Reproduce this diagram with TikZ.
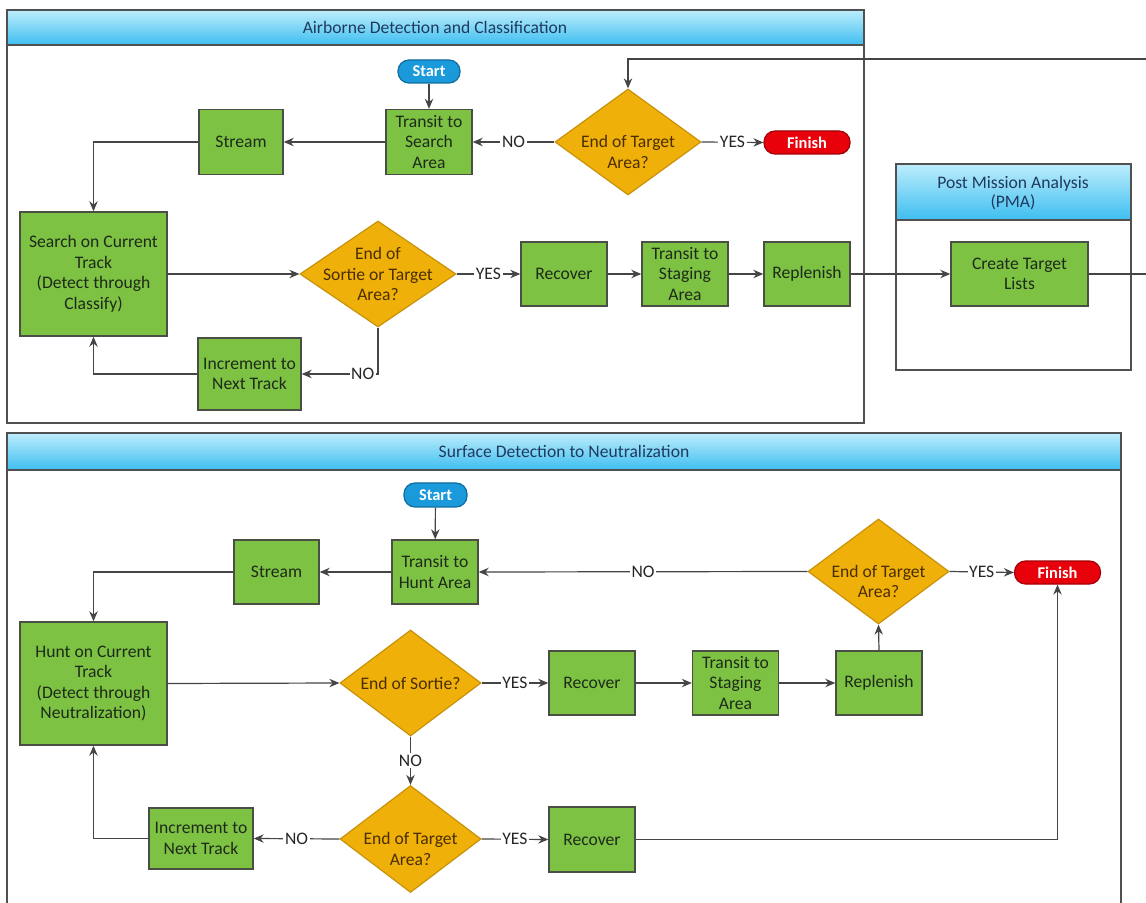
\documentclass[tikz,border=0pt]{standalone}
\usepackage{fontspec}
\setmainfont{Carlito}
\usetikzlibrary{shapes.geometric,arrows.meta}
\definecolor{boxgreen}{HTML}{7DC243}
\definecolor{boxborder}{HTML}{4A4F45}
\definecolor{boxtext}{HTML}{1E2A1A}
\definecolor{decfill}{HTML}{F0B00A}
\definecolor{decborder}{HTML}{C8920A}
\definecolor{dectext}{HTML}{4A2E00}
\definecolor{hdtop}{HTML}{BDEDFC}
\definecolor{hdbot}{HTML}{3EBEF0}
\definecolor{hdtext}{HTML}{1F3A5F}
\definecolor{startfill}{HTML}{1A9ADA}
\definecolor{startborder}{HTML}{0F6C9F}
\definecolor{finfill}{HTML}{E8000B}
\definecolor{finborder}{HTML}{A00008}
\definecolor{linecol}{HTML}{454545}
\definecolor{lanecol}{HTML}{505050}
\begin{document}
\begin{tikzpicture}[x=0.5pt,y=-0.5pt,
  txt/.style={font=\fontsize{8.8}{10.3}\selectfont},
  proc/.style={txt, draw=boxborder, line width=0.7pt, fill=boxgreen, align=center, inner sep=0.5pt, text=boxtext},
  dec/.style={diamond, draw=decborder, line width=0.6pt, fill=decfill, inner sep=0pt},
  dtext/.style={txt, align=center, text=dectext},
  startnode/.style={draw=startborder, fill=startfill, rounded corners=5.5pt, line width=0.6pt, inner sep=0pt,
     text=white, font=\bfseries\fontsize{8.2}{9.6}\selectfont},
  finnode/.style={draw=finborder, fill=finfill, rounded corners=5.5pt, line width=0.6pt, inner sep=0pt,
     text=white, font=\bfseries\fontsize{8.2}{9.6}\selectfont},
  conn/.style={draw=linecol, line width=0.6pt, -{Stealth[length=5pt,width=4.2pt]}},
  lbl/.style={txt, fill=white, inner sep=0.8pt, text=black!85},
  lane/.style={draw=lanecol, line width=0.6pt},
  header/.style={top color=hdtop, bottom color=hdbot, draw=lanecol, line width=0.6pt},
  htitle/.style={font=\fontsize{8.8}{9.8}\selectfont, text=hdtext, align=center}
]
\useasboundingbox (0,0) rectangle (1146,903);
\fill[white] (0,0) rectangle (1146,903);

% ---------- swimlane 1 ----------
\draw[lane] (7,10) rectangle (864,423);
\draw[header] (7,10) rectangle (864,45);
\node[htitle] (lane1) at (435,27.5) {Airborne Detection and Classification};

% ---------- PMA ----------
\draw[lane] (896,164) rectangle (1131,370);
\draw[header] (896,164) rectangle (1131,220);
\node[htitle] (pma) at (1013,193) {Post Mission Analysis\\(PMA)};

% ---------- swimlane 2 ----------
\draw[lane] (7,433) -- (7,910) (1121,433) -- (1121,910);
\draw[header] (7,433) rectangle (1121,470);
\node[htitle] (lane2) at (564,451) {Surface Detection to Neutralization};

% ---------- top nodes ----------
\node[startnode, minimum width=31pt, minimum height=11.5pt] (s1) at (429,71.5) {Start};
\node[proc, minimum width=43pt, minimum height=32.5pt] (ts1) at (429,142) {Transit to\\Search\\Area};
\node[proc, minimum width=42pt, minimum height=32.5pt] (st1) at (241,142) {Stream};
\node[dec, minimum width=73pt, minimum height=53pt] (d1) at (628,142) {};
\node[dtext, yshift=-5pt] (d1t) at (d1) {End of Target\\Area?};
\node[finnode, minimum width=43pt, minimum height=11.5pt] (f1) at (807,142.5) {Finish};
\node[proc, minimum width=73.5pt, minimum height=62pt] (sc1) at (93.5,274) {Search on Current\\Track\\(Detect through\\Classify)};
\node[dec, minimum width=78pt, minimum height=53pt] (d2) at (378,274) {};
\node[dtext] (d2t) at (d2) {End of\\Sortie or Target\\Area?};
\node[proc, minimum width=43pt, minimum height=32pt] (rc1) at (564,274) {Recover};
\node[proc, minimum width=43pt, minimum height=32pt] (tst1) at (685,274) {Transit to\\Staging\\Area};
\node[proc, minimum width=43pt, minimum height=32pt] (rp1) at (807,274) {Replenish};
\node[proc, minimum width=51.5pt, minimum height=36pt] (inc1) at (249.5,374) {Increment to\\Next Track};
\node[proc, minimum width=68.5pt, minimum height=32pt] (ctl) at (1019.5,274) {Create Target\\Lists};
\coordinate (edgeA) at (1160,274);
\coordinate (edgeB) at (1160,59);

% ---------- top connectors ----------
\draw[conn] (s1) -- (ts1);
\draw[conn] (d1.west) -- node[lbl] {NO} (ts1.east);
\draw[conn] (d1.east) -- node[lbl] {YES} (f1.west);
\draw[conn] (ts1.west) -- (st1.east);
\draw[conn] (st1.west) -| (sc1.north);
\draw[conn] (sc1.east) -- (d2.west);
\draw[conn] (d2.east) -- node[lbl] {YES} (rc1.west);
\draw[conn] (rc1) -- (tst1);
\draw[conn] (tst1) -- (rp1);
\draw[conn] (rp1.east) -- (ctl.west);
\draw[conn] (d2.south) |- node[lbl, pos=0.6] {NO} (inc1.east);
\draw[conn] (inc1.west) -| (sc1.south);
\draw[conn] (ctl.east) -- (edgeA) -- (edgeB) -| (d1.north);

% ---------- bottom nodes ----------
\node[startnode, minimum width=31.5pt, minimum height=12pt] (s2) at (435.5,495) {Start};
\node[proc, minimum width=43pt, minimum height=32pt] (th2) at (435,572) {Transit to\\Hunt Area};
\node[proc, minimum width=42.5pt, minimum height=32pt] (st2) at (276.5,572) {Stream};
\node[dec, minimum width=70.5pt, minimum height=52.5pt] (d3) at (878.5,571.5) {};
\node[dtext, yshift=-5pt] (d3t) at (d3) {End of Target\\Area?};
\node[finnode, minimum width=43pt, minimum height=11.5pt] (f2) at (1057.5,572.5) {Finish};
\node[proc, minimum width=73.5pt, minimum height=61.5pt] (hc2) at (93.5,683.5) {Hunt on Current\\Track\\(Detect through\\Neutralization)};
\node[dec, minimum width=70.5pt, minimum height=53pt] (d4) at (410.5,683) {};
\node[dtext] (d4t) at (d4) {End of Sortie?};
\node[proc, minimum width=43pt, minimum height=32pt] (rc2) at (592,683) {Recover};
\node[proc, minimum width=43pt, minimum height=32pt] (tst2) at (735.5,683) {Transit to\\Staging\\Area};
\node[proc, minimum width=43pt, minimum height=32pt] (rp2) at (879,683) {Replenish};
\node[dec, minimum width=70.5pt, minimum height=53.5pt] (d5) at (410.5,839) {};
\node[dtext, yshift=-5pt] (d5t) at (d5) {End of Target\\Area?};
\node[proc, minimum width=52pt, minimum height=30.5pt] (inc2) at (201,838.5) {Increment to\\Next Track};
\node[proc, minimum width=43pt, minimum height=32.5pt] (rc3) at (592,839.5) {Recover};

% ---------- bottom connectors ----------
\draw[conn] (s2) -- (th2);
\draw[conn] (th2.west) -- (st2.east);
\draw[conn] (st2.west) -| (hc2.north);
\draw[conn] (d3.west) -- node[lbl] {NO} (th2.east);
\draw[conn] (d3.east) -- node[lbl] {YES} (f2.west);
\draw[conn] (hc2.east) -- (d4.west);
\draw[conn] (d4.east) -- node[lbl] {YES} (rc2.west);
\draw[conn] (rc2) -- (tst2);
\draw[conn] (tst2) -- (rp2);
\draw[conn] (rp2.north) -- (d3.south);
\draw[conn] (d4.south) -- node[lbl] {NO} (d5.north);
\draw[conn] (d5.west) -- node[lbl] {NO} (inc2.east);
\draw[conn] (d5.east) -- node[lbl] {YES} (rc3.west);
\draw[conn] (inc2.west) -| (hc2.south);
\draw[conn] (rc3.east) -| (f2.south);
\end{tikzpicture}
\end{document}
